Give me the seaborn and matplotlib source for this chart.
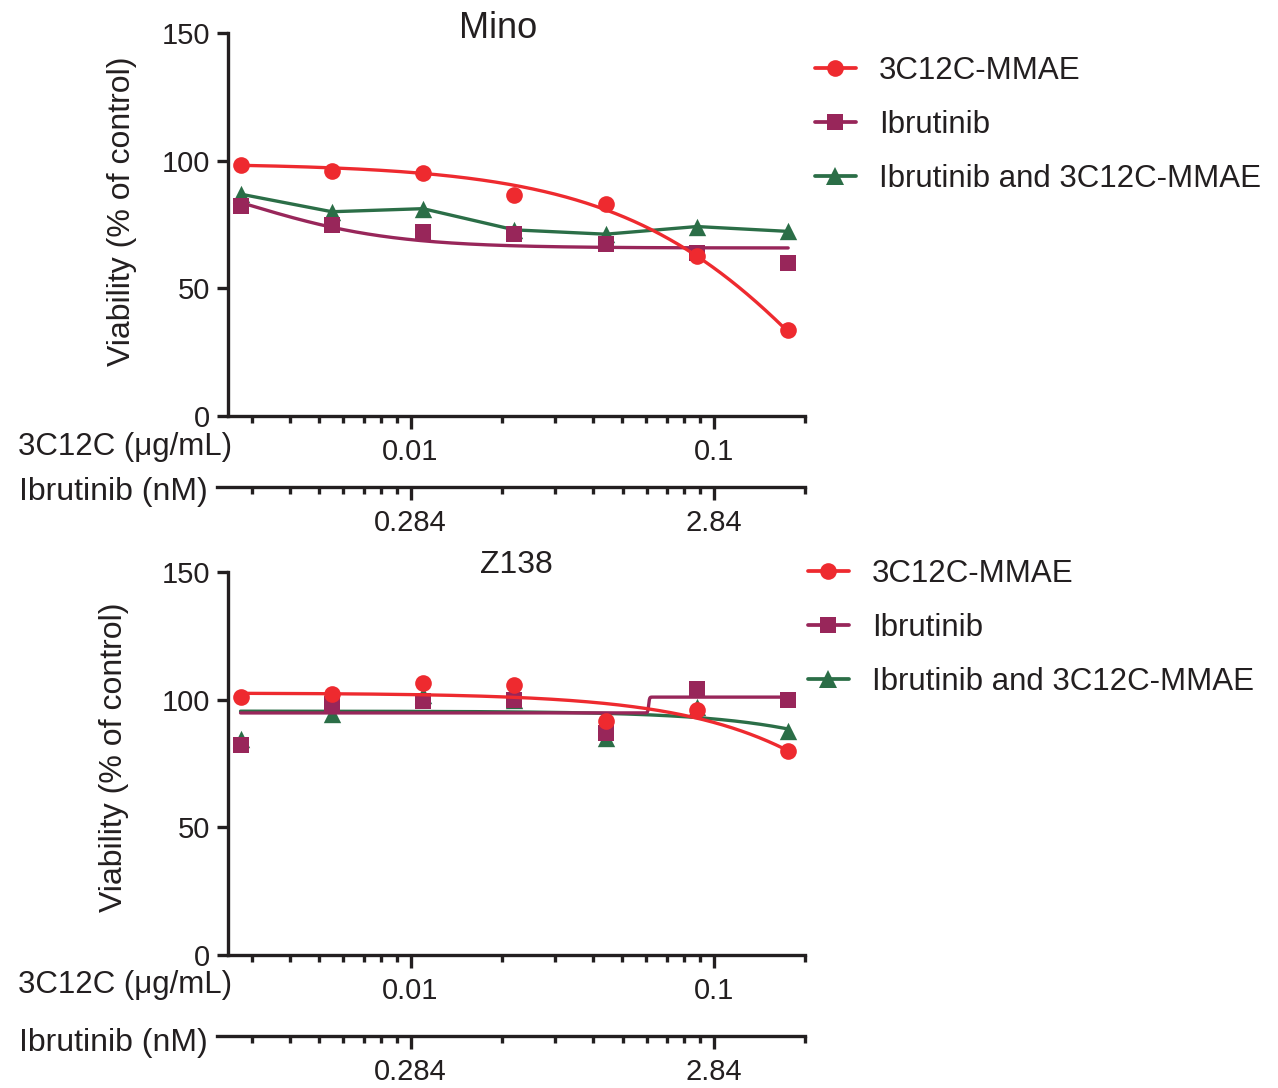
import numpy as np
import pandas as pd
import matplotlib
matplotlib.use("Agg")
import matplotlib.pyplot as plt
import seaborn as sns
from matplotlib.lines import Line2D
from matplotlib.ticker import FixedLocator, NullFormatter, FixedFormatter

# ---------------- data ----------------
conc_ug = [0.00275, 0.0055, 0.011, 0.022, 0.044, 0.088, 0.176]   # 3C12C (µg/mL)
ibr_per_ug = 28.4                                                  # Ibrutinib nM per µg/mL 3C12C
series_names = ["3C12C-MMAE", "Ibrutinib", "Ibrutinib and 3C12C-MMAE"]
panel_titles = ["Mino", "Z138"]

mino_adc = [98.4, 96.0, 95.3, 86.6, 83.0, 62.8, 33.5]
mino_ibr = [82.4, 74.8, 72.1, 71.4, 67.5, 63.8, 60.1]
mino_combo = [86.9, 80.0, 81.2, 72.9, 71.2, 74.2, 72.3]

z138_adc = [100.9, 102.2, 106.6, 105.8, 91.8, 96.1, 80.0]
z138_ibr = [82.3, 98.3, 99.6, 99.9, 86.8, 104.0, 100.0]
z138_combo = [84.6, 94.5, 102.0, 100.0, 85.0, 97.0, 87.6]

# fitted dose-response curves: (low-dose plateau, high-dose plateau, EC50 µg/mL, Hill slope)
mino_adc_fit = (99.0, -100.0, 0.3235, 1.15)
mino_ibr_fit = (100.0, 65.8, 0.00288, 1.8)
z138_adc_fit = (102.6, -100.0, 0.868, 1.3)
z138_ibr_fit = (94.8, 101.0, 0.061, 300.0)
z138_combo_fit = (95.5, 0.0, 0.905, 1.55)

y_ticks = [0, 50, 100, 150]
x_major = [0.01, 0.1]
x_major_labels = ["0.01", "0.1"]
ibr_major_labels = ["0.284", "2.84"]
x_minor = [0.003, 0.004, 0.005, 0.006, 0.007, 0.008, 0.009,
           0.02, 0.03, 0.04, 0.05, 0.06, 0.07, 0.08, 0.09, 0.2]

# ---------------- style ----------------
colors = {"3C12C-MMAE": "#EE2A2F", "Ibrutinib": "#98265A",
          "Ibrutinib and 3C12C-MMAE": "#2B6E47"}
markers = {"3C12C-MMAE": "o", "Ibrutinib": "s", "Ibrutinib and 3C12C-MMAE": "^"}
msize = {"3C12C-MMAE": 12.0, "Ibrutinib": 11.5, "Ibrutinib and 3C12C-MMAE": 12.5}

sns.set_style("ticks")
plt.rcParams["font.family"] = ["Liberation Sans", "DejaVu Sans"]
plt.rcParams["lines.solid_joinstyle"] = "round"
LW = 2.4
TICKFS = 21
INK = "#231F20"

W, H = 1278, 1088
fig = plt.figure(figsize=(W / 100, H / 100), dpi=100)


def fx(px):
    return px / W


def fy(py):
    return 1 - py / H


def logistic(x, p):
    low, high, ec50, hill = p
    x = np.asarray(x)
    return high + (low - high) / (1 + (x / ec50) ** hill)


def style_log_axis(ax, lo, hi, majors, labels, minors):
    ax.set_xscale("log")
    ax.set_xlim(lo, hi)
    ax.xaxis.set_major_locator(FixedLocator(majors))
    ax.xaxis.set_major_formatter(FixedFormatter(labels))
    ax.xaxis.set_minor_locator(FixedLocator(minors))
    ax.xaxis.set_minor_formatter(NullFormatter())
    ax.tick_params(axis="x", which="major", length=9, width=LW, direction="out",
                   labelsize=TICKFS, pad=7, color=INK, labelcolor=INK)
    ax.tick_params(axis="x", which="minor", length=5, width=LW, direction="out",
                   color=INK)


panels = [
    dict(title="Mino", title_fs=26, top=33, bottom=416, ibr_line=487,
         title_x=498, title_y=28, ylab=(-0.158, 0.535),
         points=[("Ibrutinib and 3C12C-MMAE", mino_combo), ("Ibrutinib", mino_ibr),
                 ("3C12C-MMAE", mino_adc)],
         curves=[("Ibrutinib and 3C12C-MMAE", None), ("Ibrutinib", mino_ibr_fit),
                 ("3C12C-MMAE", mino_adc_fit)],
         leg_x=815, leg_y=56, lab1_y=447, lab2_y=492),
    dict(title="Z138", title_fs=23, top=572, bottom=955, ibr_line=1036,
         title_x=516, title_y=565, ylab=(-0.172, 0.517),
         points=[("Ibrutinib and 3C12C-MMAE", z138_combo), ("Ibrutinib", z138_ibr),
                 ("3C12C-MMAE", z138_adc)],
         curves=[("Ibrutinib and 3C12C-MMAE", z138_combo_fit), ("Ibrutinib", z138_ibr_fit),
                 ("3C12C-MMAE", z138_adc_fit)],
         leg_x=808, leg_y=559, lab1_y=985, lab2_y=1043),
]

x_lo, x_hi = 0.0025, 0.2
ibr_lo = 0.002296 * ibr_per_ug
ibr_hi = 0.2 * ibr_per_ug

for pnl in panels:
    ax = fig.add_axes([fx(228), fy(pnl["bottom"]), fx(805 - 228),
                       (pnl["bottom"] - pnl["top"]) / H])
    z = 2
    for (name, vals), (cname, fit) in zip(pnl["points"], pnl["curves"]):
        if fit is None:
            cdf = pd.DataFrame({"x": conc_ug, "y": vals})
        else:
            xs = np.geomspace(conc_ug[0], conc_ug[-1], 1200)
            cdf = pd.DataFrame({"x": xs, "y": logistic(xs, fit)})
        sns.lineplot(data=cdf, x="x", y="y", ax=ax, color=colors[name], lw=LW,
                     estimator=None, sort=False, zorder=z)
        pdf = pd.DataFrame({"x": conc_ug, "y": vals})
        sns.scatterplot(data=pdf, x="x", y="y", ax=ax, color=colors[name],
                        marker=markers[name], s=msize[name] ** 2, linewidth=0,
                        zorder=z + 1)
        z += 2

    style_log_axis(ax, x_lo, x_hi, x_major, x_major_labels, x_minor)
    ax.set_ylim(0, 150)
    ax.set_yticks(y_ticks)
    ax.tick_params(axis="y", length=8, width=LW, labelsize=TICKFS, pad=5,
                   color=INK, labelcolor=INK)
    ax.set_xlabel("")
    ax.set_ylabel("Viability (% of control)", fontsize=23, color=INK)
    ax.yaxis.set_label_coords(*pnl["ylab"])
    sns.despine(ax=ax)
    for sp in ["left", "bottom"]:
        ax.spines[sp].set_linewidth(LW)
        ax.spines[sp].set_color(INK)
    fig.text(fx(pnl["title_x"]), fy(pnl["title_y"]), pnl["title"], ha="center",
             va="center", fontsize=pnl["title_fs"], color=INK)

    # secondary (Ibrutinib) concentration axis
    axb = fig.add_axes([fx(217), fy(pnl["ibr_line"]), fx(805 - 217), 0.0001])
    axb.set_facecolor("none")
    for sp in ["left", "right", "top"]:
        axb.spines[sp].set_visible(False)
    axb.spines["bottom"].set_linewidth(LW)
    axb.spines["bottom"].set_color(INK)
    axb.set_yticks([])
    style_log_axis(axb, ibr_lo, ibr_hi, [v * ibr_per_ug for v in x_major],
                   ibr_major_labels, [v * ibr_per_ug for v in x_minor])

    fig.text(fx(232), fy(pnl["lab1_y"]), "3C12C (μg/mL)", ha="right", va="center",
             fontsize=22.5, color=INK)
    fig.text(fx(208), fy(pnl["lab2_y"]), "Ibrutinib (nM)", ha="right", va="center",
             fontsize=23, color=INK)

    handles = [Line2D([], [], color=colors[n], lw=LW + 0.3, marker=markers[n],
                      markersize=msize[n], markeredgewidth=0) for n in series_names]
    fig.legend(handles, series_names, loc="upper left",
               bbox_to_anchor=(fx(pnl["leg_x"]), fy(pnl["leg_y"])),
               bbox_transform=fig.transFigure, frameon=False, fontsize=22.5,
               handlelength=1.3, handletextpad=0.75, labelspacing=0.77,
               borderpad=0, borderaxespad=0, labelcolor=INK)

fig.savefig("out.png", dpi=100)
